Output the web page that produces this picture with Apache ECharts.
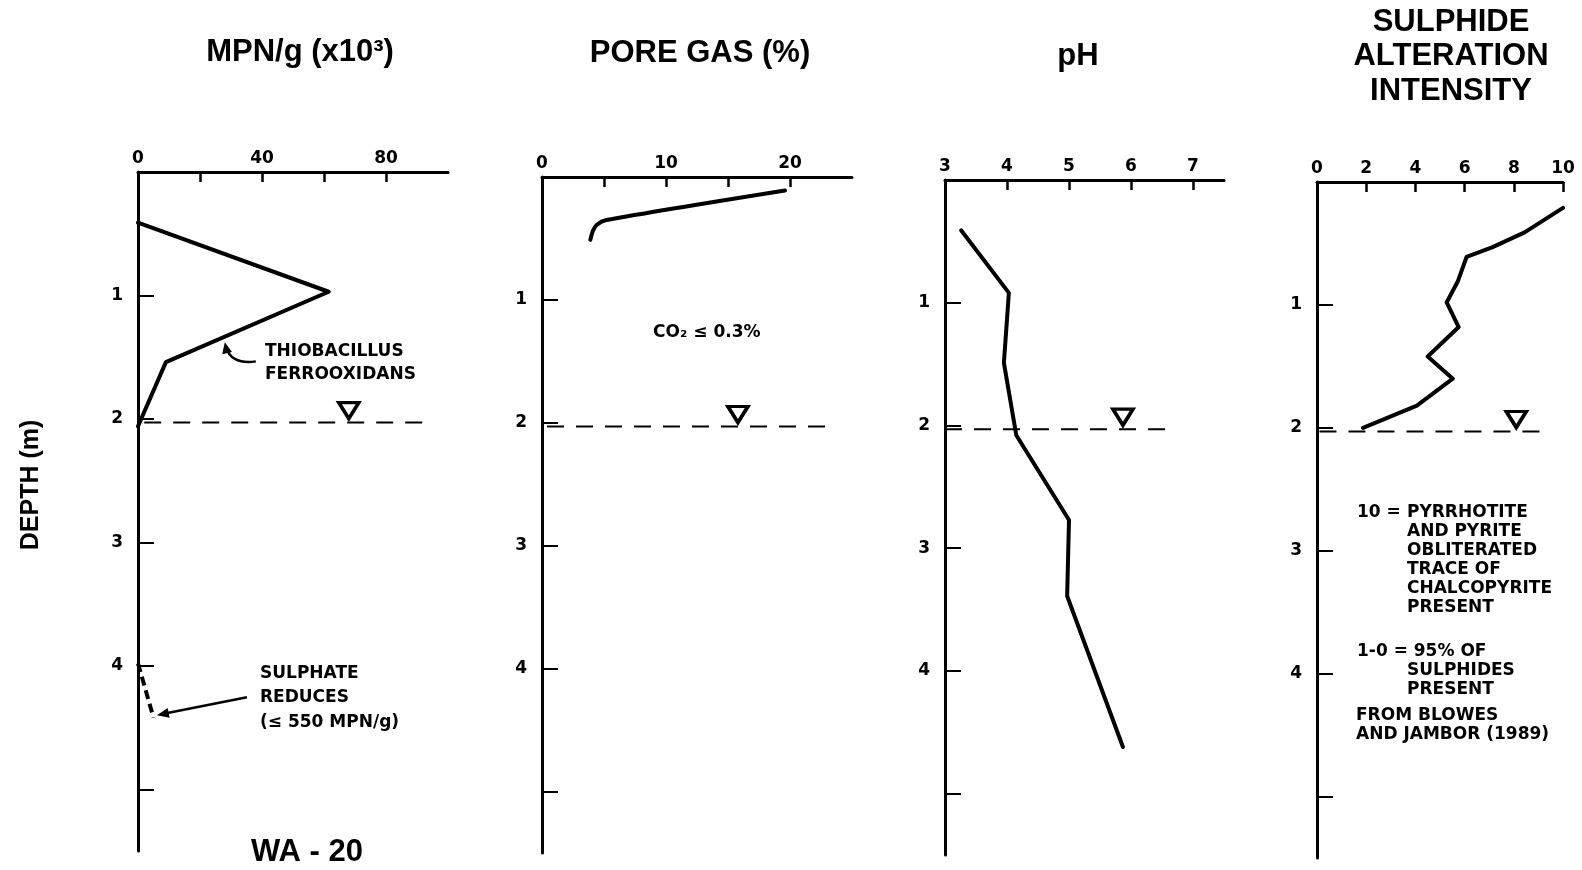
<!DOCTYPE html>
<html>
<head>
<meta charset="utf-8">
<script src="https://cdn.jsdelivr.net/npm/echarts@6/dist/echarts.min.js"></script>
<style>
html,body{margin:0;padding:0;background:#fff;}
#chart{width:1582px;height:870px;}
</style>
</head>
<body>
<div id="chart"></div>
<script>
// ---------- data ----------
const panelTitles = ['MPN/g (x10³)', 'PORE GAS (%)', 'pH', 'SULPHIDE\nALTERATION\nINTENSITY'];
const depthAxisTitle = 'DEPTH (m)';
const siteLabel = 'WA - 20';

const depthTicks = [1, 2, 3, 4, 5];
const depthLabels = [1, 2, 3, 4];

const mpnTicks = [20, 40, 60, 80];
const mpnLabels = [0, 40, 80];
const gasTicks = [5, 10, 15, 20];
const gasLabels = [0, 10, 20];
const phTicks = [4, 5, 6, 7];
const phLabels = [3, 4, 5, 6, 7];
const alterationTicks = [2, 4, 6, 8, 10];
const alterationLabels = [0, 2, 4, 6, 8, 10];

// Thiobacillus ferrooxidans (MPN/g x10^3) vs depth (m)
const mpnValues = [0, 61.5, 9, 0];
const mpnDepths = [0.41, 0.97, 1.54, 2.06];
// sulphate reducers (dashed)
const sulphateValues = [0, 5];
const sulphateDepths = [3.98, 4.42];
// pore gas (%)
const gasValues = [19.6, 5.2, 4.4, 4.1, 3.9];
const gasDepths = [0.11, 0.35, 0.39, 0.44, 0.51];
// pH
const phValues = [3.26, 4.03, 3.95, 4.15, 5.0, 4.97, 5.87];
const phDepths = [0.41, 0.92, 1.49, 2.08, 2.77, 3.39, 4.62];
// sulphide alteration intensity
const alterationValues = [10, 8.44, 7.14, 6.08, 5.72, 5.27, 5.76, 4.5, 5.52, 4.06, 1.87];
const alterationDepths = [0.21, 0.41, 0.53, 0.61, 0.81, 0.98, 1.18, 1.42, 1.6, 1.82, 2.0];

// water table
const waterTableDepth = 2.03;
const waterTableStart = [2, 0.4, 3, 0.1];
const waterTableEnd = [93, 23.4, 6.68, 9.2];
const waterTableMarkerX = [68, 15.8, 5.87, 8.1];

// axis ranges
const xMins = [0, 0, 3, 0];
const xMaxs = [100, 25, 7.5, 10];
const depthMax = 5.5;

// ---------- layout ----------
const grids = [
  {left: 138, top: 172, width: 310, height: 679},
  {left: 542, top: 177, width: 310, height: 676},
  {left: 945, top: 180, width: 279, height: 675},
  {left: 1317, top: 182, width: 246, height: 676}
];
const tickSets = [mpnTicks, gasTicks, phTicks, alterationTicks];
const labelSets = [mpnLabels, gasLabels, phLabels, alterationLabels];

const BLACK = '#000';
const tickFont = {fontFamily: 'DejaVu Sans', fontWeight: 'bold', fontSize: 17, color: BLACK};

function pairs(xs, ys) { return xs.map((v, i) => [v, ys[i]]); }

const xAxes = grids.map((g, i) => ({
  type: 'value', gridIndex: i, position: 'top', min: xMins[i], max: xMaxs[i],
  axisLine: {show: true, onZero: false, lineStyle: {color: BLACK, width: 3}},
  axisTick: {show: true, inside: true, length: 10, lineStyle: {color: BLACK, width: 2.5}, customValues: tickSets[i]},
  axisLabel: Object.assign({show: true, margin: 5, customValues: labelSets[i]}, tickFont),
  splitLine: {show: false}
}));
const yAxes = grids.map((g, i) => ({
  type: 'value', gridIndex: i, inverse: true, min: 0, max: depthMax,
  axisLine: {show: true, onZero: false, lineStyle: {color: BLACK, width: 3}},
  axisTick: {show: true, inside: true, length: 16, lineStyle: {color: BLACK, width: 2}, customValues: depthTicks},
  axisLabel: Object.assign({show: true, margin: 15, customValues: depthLabels}, tickFont),
  splitLine: {show: false}
}));

const profileSeries = [
  pairs(mpnValues, mpnDepths),
  pairs(gasValues, gasDepths),
  pairs(phValues, phDepths),
  pairs(alterationValues, alterationDepths)
];

const series = [];
profileSeries.forEach((d, i) => {
  series.push({
    type: 'line', xAxisIndex: i, yAxisIndex: i, data: d, showSymbol: false, silent: true,
    smooth: i === 1 ? 0.25 : false,
    lineStyle: {color: BLACK, width: 4, cap: 'round', join: 'round'}, z: 5
  });
  series.push({
    type: 'line', xAxisIndex: i, yAxisIndex: i, showSymbol: false, silent: true,
    data: [[waterTableStart[i], waterTableDepth], [waterTableEnd[i], waterTableDepth]],
    lineStyle: {color: BLACK, width: 2, type: [17, 12]}, z: 3
  });
  series.push({
    type: 'scatter', xAxisIndex: i, yAxisIndex: i, silent: true,
    data: [[waterTableMarkerX[i], waterTableDepth]],
    symbol: 'path://M0,0 L20,0 L10,17 Z', symbolSize: [20, 16], symbolOffset: [0, -12],
    itemStyle: {color: '#fff', borderColor: BLACK, borderWidth: 3.5, opacity: 1}, z: 6
  });
});
series.push({
  type: 'line', xAxisIndex: 0, yAxisIndex: 0, showSymbol: false, silent: true,
  data: pairs(sulphateValues, sulphateDepths),
  lineStyle: {color: BLACK, width: 4, type: [9, 5]}, z: 5
});

const chart = echarts.init(document.getElementById('chart'), null, {renderer: 'canvas'});
chart.setOption({
  backgroundColor: '#fff',
  animation: false,
  grid: grids.map(g => Object.assign({containLabel: false}, g)),
  xAxis: xAxes,
  yAxis: yAxes,
  series: series
});

// ---------- annotations ----------
const titleFont = {fontFamily: 'Liberation Sans', fontWeight: 'bold', fill: BLACK};
const noteFont = {fontFamily: 'DejaVu Sans', fontWeight: 'bold', fontSize: 17, fill: BLACK};

function text(x, y, str, style, extra) {
  return Object.assign({type: 'text', x: x, y: y, silent: true,
    style: Object.assign({text: str}, style)}, extra || {});
}
function arrowHead(tip, from, L, W) {
  const dx = tip[0] - from[0], dy = tip[1] - from[1];
  const len = Math.sqrt(dx * dx + dy * dy);
  const ux = dx / len, uy = dy / len, px = -uy, py = ux;
  return {type: 'polygon', silent: true, shape: {points: [
    tip,
    [tip[0] - L * ux + W * px, tip[1] - L * uy + W * py],
    [tip[0] - L * ux - W * px, tip[1] - L * uy - W * py]
  ]}, style: {fill: BLACK}};
}

const thioTip = chart.convertToPixel({gridIndex: 0}, [28, 1.38]);
const sulTip = chart.convertToPixel({gridIndex: 0}, [6.1, 4.4]);
const thioStart = [thioTip[0] + 31, thioTip[1] + 19];
const thioCp1 = [thioTip[0] + 13, thioTip[1] + 22];
const thioCp2 = [thioTip[0] + 3, thioTip[1] + 14];
const sulTail = [sulTip[0] + 90, sulTip[1] - 18];

const graphics = [
  text(300, 52, panelTitles[0], Object.assign({fontSize: 31, textAlign: 'center', textVerticalAlign: 'middle'}, titleFont)),
  text(700, 53, panelTitles[1], Object.assign({fontSize: 31, textAlign: 'center', textVerticalAlign: 'middle'}, titleFont)),
  text(1078, 56, panelTitles[2], Object.assign({fontSize: 31, textAlign: 'center', textVerticalAlign: 'middle'}, titleFont)),
  text(1451, 56.5, panelTitles[3], Object.assign({fontSize: 31, lineHeight: 34.5, textAlign: 'center', textVerticalAlign: 'middle'}, titleFont)),
  text(31, 485, depthAxisTitle, Object.assign({fontSize: 25, textAlign: 'center', textVerticalAlign: 'middle'}, titleFont), {rotation: Math.PI / 2}),
  text(307, 852, siteLabel, Object.assign({fontSize: 31, textAlign: 'center', textVerticalAlign: 'middle'}, titleFont)),

  text(265, 340.5, 'THIOBACILLUS\nFERROOXIDANS', Object.assign({lineHeight: 23}, noteFont)),
  text(260, 661, 'SULPHATE\nREDUCES\n(≤ 550 MPN/g)', Object.assign({lineHeight: 24.5}, noteFont)),
  text(653, 333, 'CO₂ ≤ 0.3%', Object.assign({textVerticalAlign: 'middle'}, noteFont)),

  text(1357, 503.5, '10 =', Object.assign({lineHeight: 19}, noteFont)),
  text(1407, 503.5, 'PYRRHOTITE\nAND PYRITE\nOBLITERATED\nTRACE OF\nCHALCOPYRITE\nPRESENT', Object.assign({lineHeight: 19}, noteFont)),
  text(1357, 642.5, '1-0 = 95% OF', Object.assign({lineHeight: 19}, noteFont)),
  text(1407, 661.5, 'SULPHIDES\nPRESENT', Object.assign({lineHeight: 19}, noteFont)),
  text(1356, 706.5, 'FROM BLOWES\nAND JAMBOR (1989)', Object.assign({lineHeight: 19}, noteFont)),

  {type: 'bezierCurve', silent: true, shape: {
    x1: thioStart[0], y1: thioStart[1], cpx1: thioCp1[0], cpy1: thioCp1[1],
    cpx2: thioCp2[0], cpy2: thioCp2[1], x2: thioTip[0] + 2, y2: thioTip[1] + 5},
    style: {stroke: BLACK, lineWidth: 2.5, fill: null}},
  arrowHead(thioTip, thioCp2, 11, 5),
  {type: 'line', silent: true, shape: {x1: sulTail[0], y1: sulTail[1], x2: sulTip[0] + 8, y2: sulTip[1] - 1.6},
    style: {stroke: BLACK, lineWidth: 2.5}},
  arrowHead(sulTip, sulTail, 12, 5)
];
chart.setOption({graphic: graphics});
</script>
</body>
</html>
